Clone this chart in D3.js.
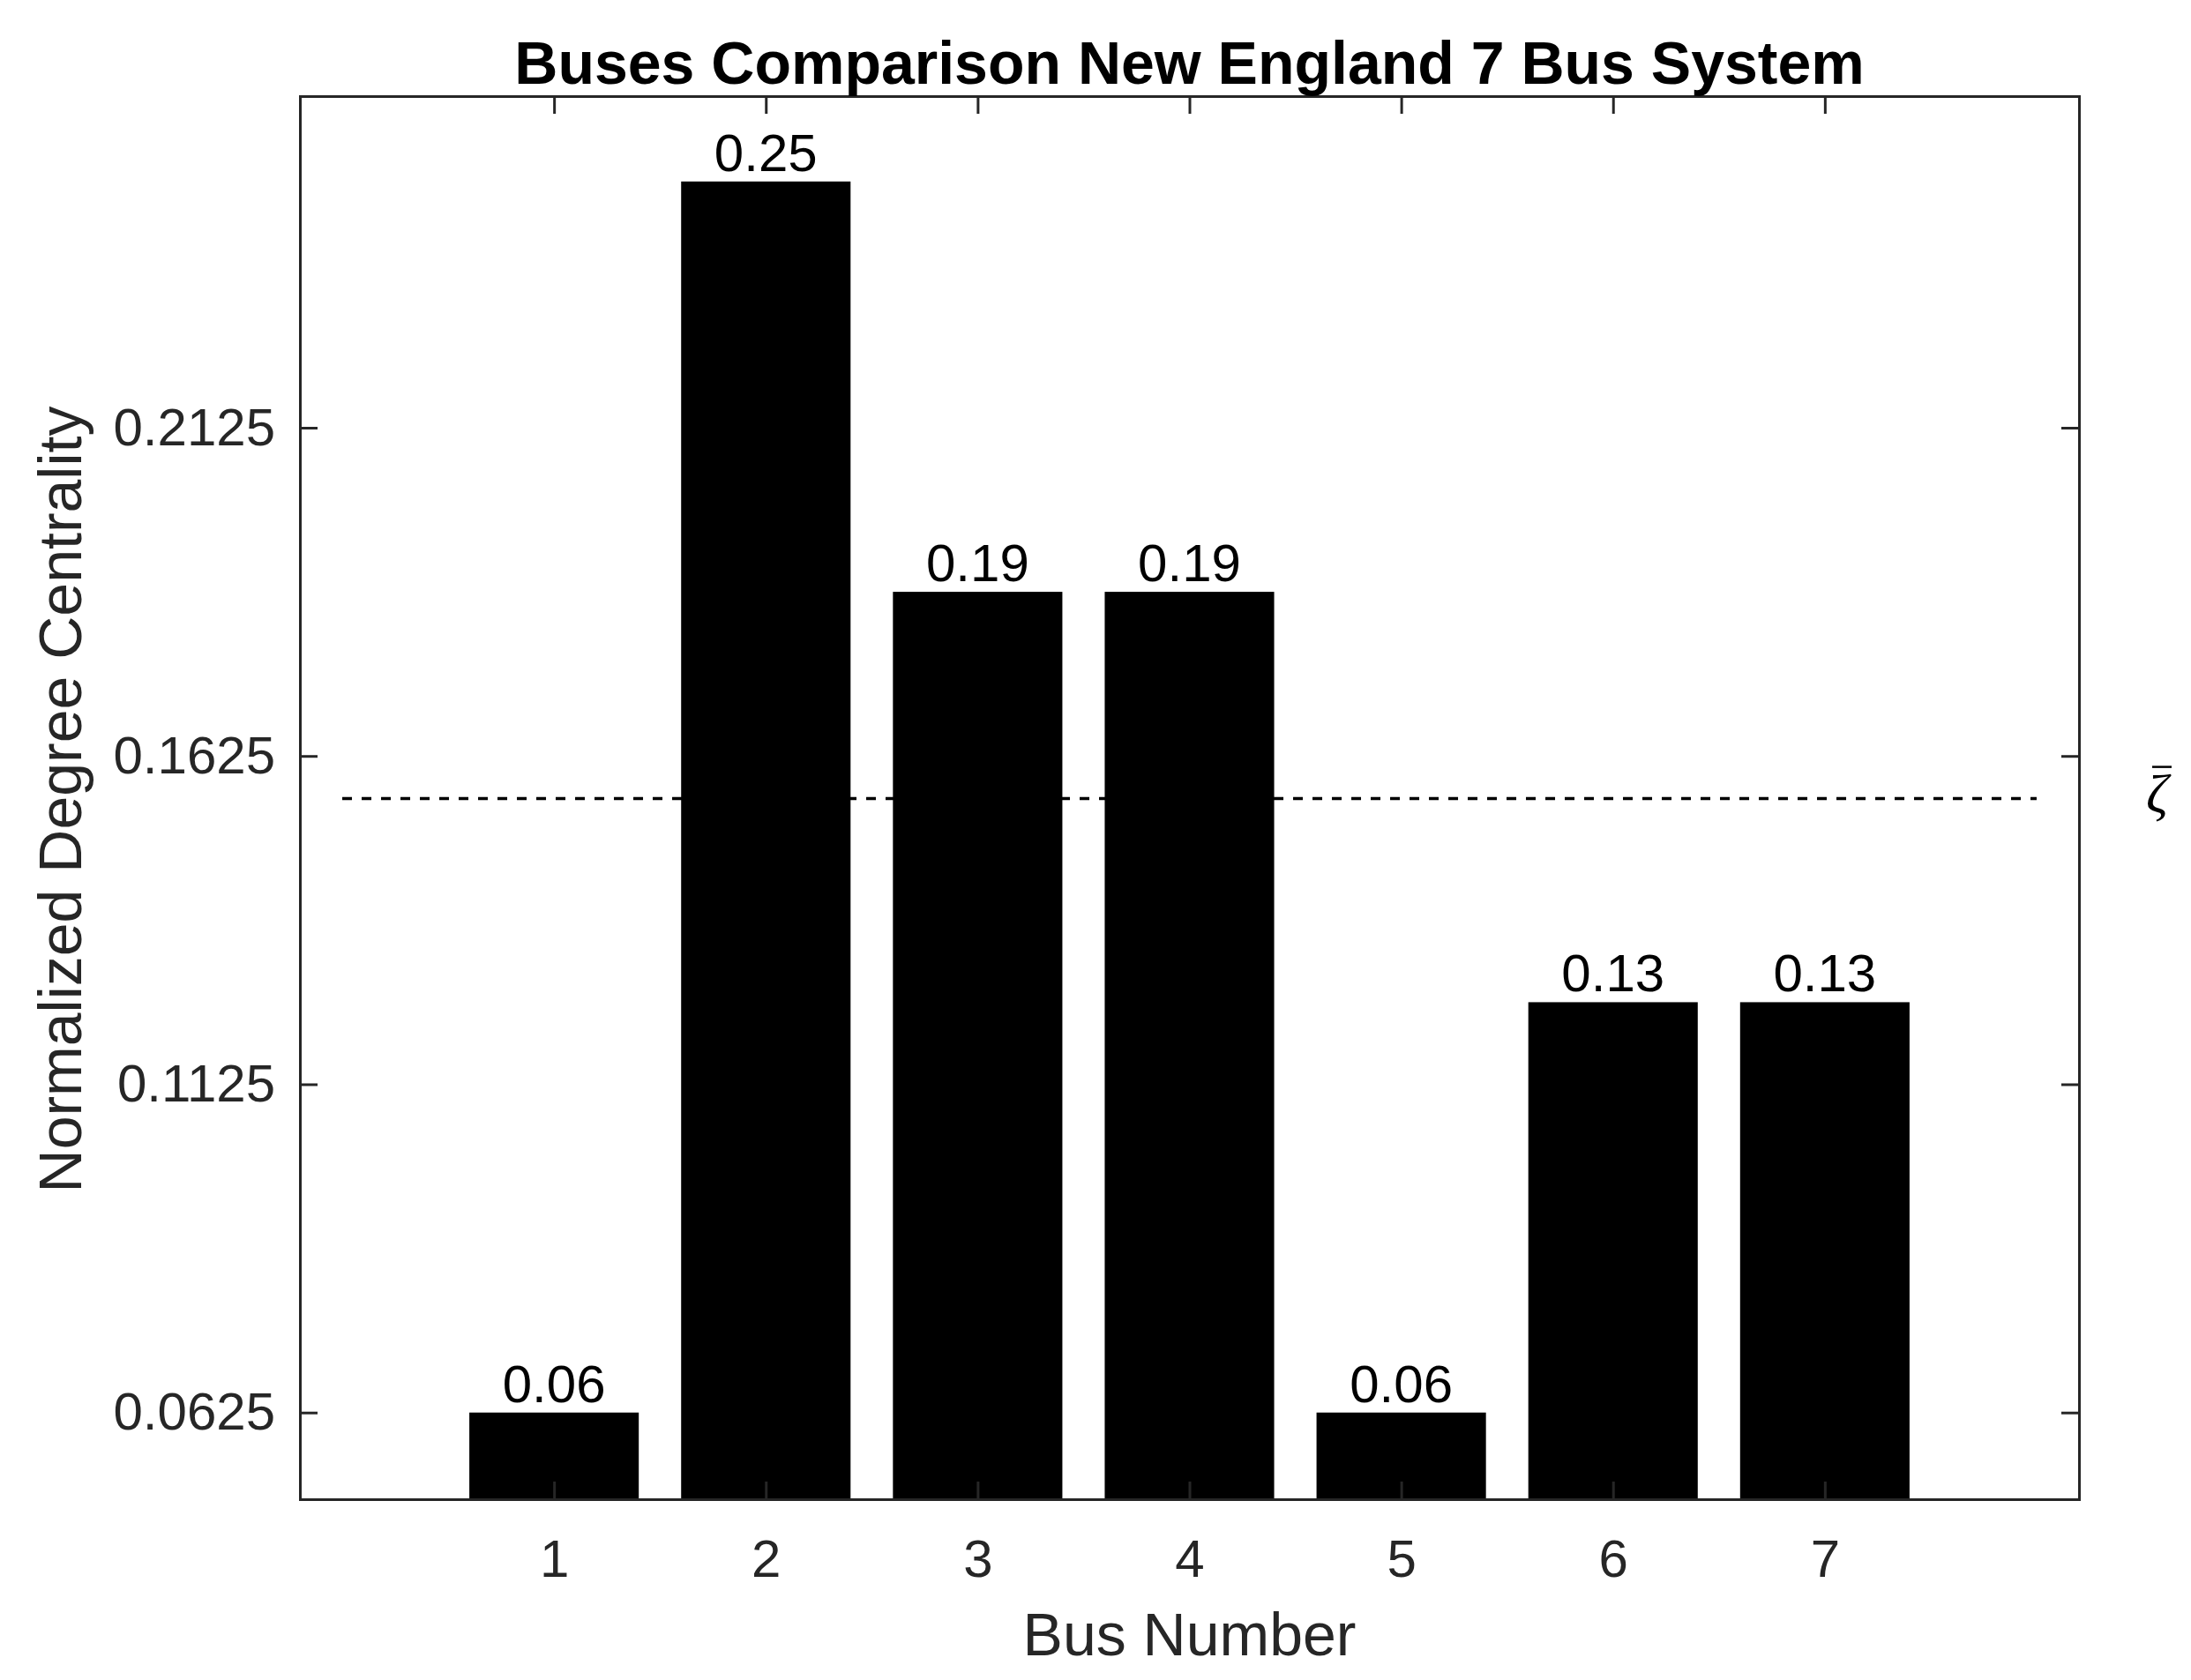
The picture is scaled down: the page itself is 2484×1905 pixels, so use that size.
<!DOCTYPE html>
<html>
<head>
<meta charset="utf-8">
<script src="https://cdn.jsdelivr.net/npm/d3@7"></script>
<style>
  body { margin: 0; background: #fff; }
  svg { display: block; }
</style>
</head>
<body>
<div class="chart"></div>
<script>
// data
var buses = [1, 2, 3, 4, 5, 6, 7];
var centrality = [0.0625, 0.25, 0.1875, 0.1875, 0.0625, 0.125, 0.125];
var yTicks = [0.0625, 0.1125, 0.1625, 0.2125];
var meanLevel = 0.156;

var width = 2484;
var height = 1905;
var margin = { left: 340, right: 127, top: 109, bottom: 205 };
var axisColor = '#262626';

var svg = d3
  .select('.chart')
  .append('svg')
  .attr('width', width)
  .attr('height', height)
  .style('font-family', '"Liberation Sans", Arial, sans-serif');

svg.append('rect').attr('width', width).attr('height', height).attr('fill', '#fff');

var x = d3
  .scaleLinear()
  .domain([-0.2, 8.2])
  .range([margin.left, width - margin.right]);

var y = d3
  .scaleLinear()
  .domain([0.0493, 0.263])
  .range([height - margin.bottom, margin.top]);

var barWidth = (x(1) - x(0)) * 0.8;

// bars
svg
  .selectAll('.bar')
  .data(buses)
  .enter()
  .append('rect')
  .attr('class', 'bar')
  .attr('x', function(d) { return x(d) - barWidth / 2; })
  .attr('y', function(d, i) { return y(centrality[i]); })
  .attr('width', barWidth)
  .attr('height', function(d, i) { return y.range()[0] - y(centrality[i]); })
  .attr('fill', '#000');

// value labels
svg
  .selectAll('.value')
  .data(buses)
  .enter()
  .append('text')
  .attr('class', 'value')
  .attr('x', function(d) { return x(d); })
  .attr('y', function(d, i) { return y(centrality[i]) - 12; })
  .attr('text-anchor', 'middle')
  .attr('font-size', 60)
  .attr('fill', '#000')
  .text(function(d, i) { return d3.format('.2f')(centrality[i]); });

// mean line
svg
  .append('line')
  .attr('x1', x(0))
  .attr('x2', x(8))
  .attr('y1', y(meanLevel))
  .attr('y2', y(meanLevel))
  .attr('stroke', '#000')
  .attr('stroke-width', 3.5)
  .attr('stroke-dasharray', '11,11');

// zeta bar label
var zx = x.range()[1] + 76;
var zy = y(meanLevel) + 15;
svg
  .append('text')
  .attr('x', zx)
  .attr('y', zy)
  .attr('font-family', '"Liberation Serif", "DejaVu Serif", serif')
  .attr('font-style', 'italic')
  .attr('font-size', 62)
  .attr('fill', '#000')
  .text('ζ');
svg
  .append('line')
  .attr('x1', zx + 7)
  .attr('x2', zx + 29)
  .attr('y1', zy - 51)
  .attr('y2', zy - 51)
  .attr('stroke', '#000')
  .attr('stroke-width', 2.5);

// axes (box with inward ticks)
function styleAxis(g) {
  g.selectAll('path, line').attr('stroke', axisColor).attr('stroke-width', 3);
  g.selectAll('text').attr('fill', axisColor).attr('font-size', 60).attr('font-family', null);
}

svg
  .append('g')
  .attr('transform', 'translate(0,' + y.range()[0] + ')')
  .call(d3.axisBottom(x).tickValues(buses).tickFormat(d3.format('d')).tickSizeInner(-20).tickSizeOuter(0).tickPadding(45))
  .call(styleAxis);

svg
  .append('g')
  .attr('transform', 'translate(0,' + y.range()[1] + ')')
  .call(d3.axisTop(x).tickValues(buses).tickFormat('').tickSizeInner(-20).tickSizeOuter(0))
  .call(styleAxis);

svg
  .append('g')
  .attr('transform', 'translate(' + x.range()[0] + ',0)')
  .call(d3.axisLeft(y).tickValues(yTicks).tickFormat(d3.format('.4f')).tickSizeInner(-20).tickSizeOuter(0).tickPadding(28))
  .call(styleAxis);

svg
  .append('g')
  .attr('transform', 'translate(' + x.range()[1] + ',0)')
  .call(d3.axisRight(y).tickValues(yTicks).tickFormat('').tickSizeInner(-20).tickSizeOuter(0))
  .call(styleAxis);

svg.selectAll('.domain').attr('stroke-linecap', 'square');

// title and axis labels
var midX = (x.range()[0] + x.range()[1]) / 2;
var midY = (y.range()[0] + y.range()[1]) / 2;

svg
  .append('text')
  .attr('x', midX)
  .attr('y', 95)
  .attr('text-anchor', 'middle')
  .attr('font-size', 68)
  .attr('font-weight', 'bold')
  .attr('fill', '#000')
  .text('Buses Comparison New England 7 Bus System');

svg
  .append('text')
  .attr('x', midX)
  .attr('y', 1877)
  .attr('text-anchor', 'middle')
  .attr('font-size', 68)
  .attr('fill', axisColor)
  .text('Bus Number');

svg
  .append('text')
  .attr('transform', 'translate(92,' + (midY + 2) + ') rotate(-90)')
  .attr('text-anchor', 'middle')
  .attr('font-size', 68)
  .attr('fill', axisColor)
  .text('Normalized Degree Centrality');
</script>
</body>
</html>
